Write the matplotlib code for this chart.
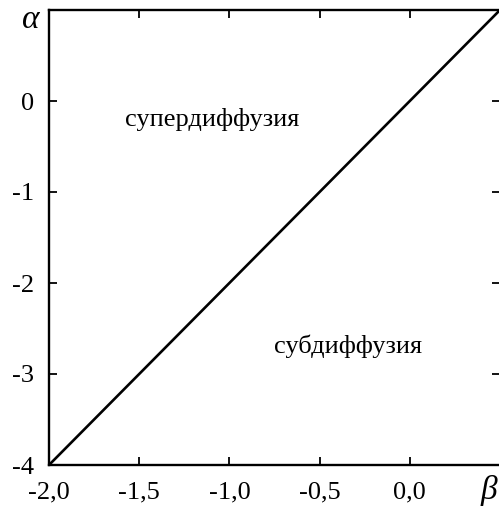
import matplotlib
matplotlib.use("Agg")
import matplotlib.pyplot as plt

plt.rcParams['font.family'] = ['Liberation Serif', 'DejaVu Serif']
plt.rcParams['mathtext.fontset'] = 'custom'
plt.rcParams['mathtext.it'] = 'Liberation Serif:italic'

beta_line = [-2.0, 0.5]
alpha_line = [-4.0, 1.0]
xticks = [-2.0, -1.5, -1.0, -0.5, 0.0]
xticklabels = ["-2,0", "-1,5", "-1,0", "-0,5", "0,0"]
yticks = [-4, -3, -2, -1, 0]
yticklabels = ["-4", "-3", "-2", "-1", "0"]
region_labels = ["супердиффузия", "субдиффузия"]
region_pos = [(-1.095, -0.2), (-0.34, -2.7)]

W, H = 499, 509
fig = plt.figure(figsize=(W / 100, H / 100), dpi=100)
ax = fig.add_axes([49 / W, (H - 465) / H, 451 / W, 455 / H])
ax.plot(beta_line, alpha_line, color='black', lw=1.9, solid_capstyle='butt')
ax.set_xlim(-2.0, 0.5)
ax.set_ylim(-4.0, 1.0)
ax.set_xticks(xticks)
ax.set_xticklabels(xticklabels)
ax.set_yticks(yticks)
ax.set_yticklabels(yticklabels)
ax.tick_params(direction='in', length=6, width=1.3, labelsize=19,
               top=True, right=True, pad=12)
ax.tick_params(axis='y', pad=11)
for s in ax.spines.values():
    s.set_linewidth(1.7)

for t, (x, y) in zip(region_labels, region_pos):
    ax.text(x, y, t, fontsize=19, ha='center', va='center')

fig.text(31 / W, 1 - 20 / H, r'$\alpha$', fontsize=24, ha='center', va='center')
fig.text(490 / W, 1 - 490 / H, r'$\beta$', fontsize=24, ha='center', va='center')

fig.savefig('out.png', dpi=100)
